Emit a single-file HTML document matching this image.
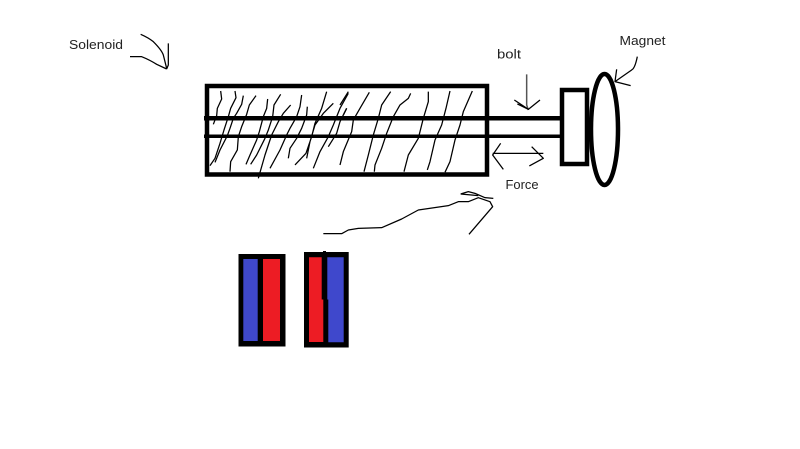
<!DOCTYPE html>
<html><head><meta charset="utf-8"><style>
html,body{margin:0;padding:0;background:#fff;width:800px;height:449px;overflow:hidden}
svg{display:block}
text{font-family:"Liberation Sans",sans-serif;font-size:12.5px;fill:#222}
.l{fill:none;stroke:#000;stroke-width:3.8;stroke-linejoin:round}
</style></head><body>
<svg width="800" height="449" viewBox="0 0 800 449">
<rect width="800" height="449" fill="#fff"/>
<!-- hatching -->
<g transform="translate(200,75) scale(.3333)">
<path class="l" d="M62 48L65 72L52 100L50 122L40 148M105 48L108 68L92 100L85 125L72 165L60 205L45 250L30 272M130 62L125 88L110 115L100 130L90 160L82 182L60 225L45 262M168 62L148 90L140 118L125 155L115 185L112 225L92 260L90 290M203 72L200 100L190 125L178 170L170 195L150 240L138 268M242 58L222 90L218 125L205 165L195 190L170 240L152 268M272 90L250 115L235 140L215 180L195 240L175 310M305 60L300 95L290 125L270 160L260 180L240 225L210 280M322 95L320 120L305 160L290 190L270 220L265 250M380 50L365 100L345 145L335 185L318 235L285 270M400 85L370 115L345 150L330 200L320 250M445 55L420 100L400 150L385 185L360 230L340 280M440 100L420 140L410 175L385 215"/>
</g>
<g transform="translate(340,75) scale(.3333)">
<path class="l" d="M25 50L0 90M20 100L10 120M88 52L60 100L40 135L35 170L10 230L0 270M152 50L125 90L115 130L100 180L85 240L72 290M212 55L205 70L180 90L160 125L140 175L125 220L105 270L103 290M265 50L265 80L250 130L235 190L205 240L192 290M330 48L318 100L305 150L285 195L270 260L262 285M397 48L370 110L360 150L345 195L330 260L315 292"/>
</g>
<!-- solenoid body -->
<rect x="207" y="86" width="280" height="88.500" fill="none" stroke="#000" stroke-width="4.500"/>
<!-- bolt -->
<rect x="204" y="116" width="360" height="4.500" fill="#000"/>
<rect x="204" y="134.500" width="360" height="3.500" fill="#000"/>
<!-- end block and magnet -->
<rect x="562" y="90" width="25" height="74" fill="#fff" stroke="#000" stroke-width="4.500"/>
<ellipse cx="604.500" cy="129.500" rx="13.500" ry="55.500" fill="#fff" stroke="#000" stroke-width="4.500"/>
<!-- arrows -->
<g transform="translate(480,30) scale(.3333)">
<path class="l" d="M140 133L140 225L145 240" style="stroke:#555;stroke-width:4.500"/>
<path class="l" d="M103 210L145 238L180 210M112 222L145 238"/>
<path class="l" d="M38 370L190 370M62 340L38 375L70 418M155 350L190 385L148 408"/>
<path class="l" d="M472 80Q465 115 455 120L405 155L452 167M410 118L405 155"/>
</g>
<g transform="translate(50,25) scale(.3333)">
<path class="l" d="M272 28Q295 38 310 50Q335 75 340 90L350 130M355 55L355 120L350 132M240 95L275 95Q300 105 320 118L350 132"/>
</g>
<g transform="translate(315,185) scale(.3333)">
<path class="l" d="M25 146L80 146L100 135L130 130L200 128L260 102L310 75L400 62L430 50L460 50L490 38L525 50L533 65L462 148M437 27L460 20L480 25L510 38L535 40M437 27L490 32"/>
</g>
<!-- magnets -->
<rect x="238.500" y="254" width="47" height="92.500" fill="#000"/>
<rect x="243.300" y="259" width="14.400" height="82" fill="#3f48cc"/>
<rect x="263" y="259" width="17" height="82" fill="#ed1c24"/>
<rect x="304" y="252" width="44.700" height="95.500" fill="#000"/>
<rect x="323" y="251" width="3" height="3" fill="#000"/>
<path d="M309 257.300H321.700V299.500H323.300V342H309Z" fill="#ed1c24"/>
<path d="M327.300 257.300H343.700V342.300H328.300V299.500H327.300Z" fill="#3f48cc"/>
<!-- labels -->
<text x="69" y="49" textLength="54" lengthAdjust="spacingAndGlyphs">Solenoid</text>
<text x="497" y="58.500" textLength="24" lengthAdjust="spacingAndGlyphs">bolt</text>
<text x="505.500" y="189" textLength="33" lengthAdjust="spacingAndGlyphs">Force</text>
<text x="619.500" y="45" textLength="46" lengthAdjust="spacingAndGlyphs">Magnet</text>
</svg>
</body></html>
